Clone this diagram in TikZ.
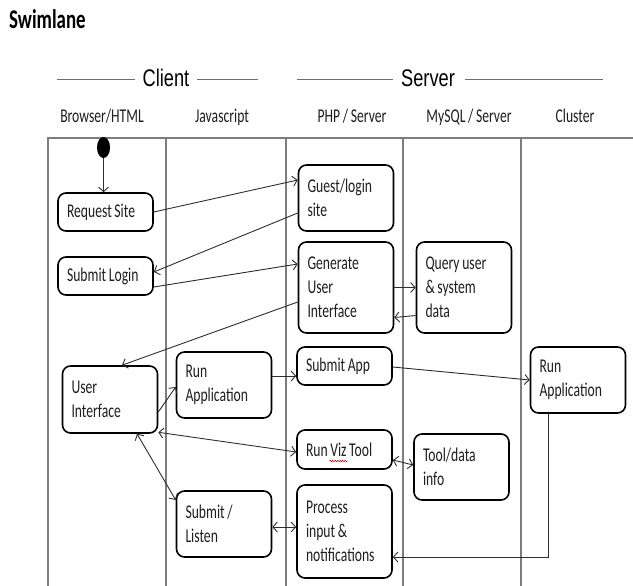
\documentclass[tikz,border=0pt]{standalone}
\usepackage{fontspec}
\usepackage{tikz}
\usetikzlibrary{arrows.meta, shapes.geometric, decorations.pathmorphing}
\newfontfamily\boxfont[FakeStretch=0.7, WordSpace=0.85]{Carlito}
\newfontfamily\headfont[FakeStretch=0.76]{Liberation Sans}
\definecolor{laneline}{RGB}{125,125,125}
\definecolor{headline}{RGB}{95,115,135}
\definecolor{flowgray}{RGB}{45,45,45}
\definecolor{textgray}{RGB}{30,30,30}

\begin{document}
\begin{tikzpicture}[x=1pt, y=-1pt,
    act/.style={draw=black, line width=1.6pt, rounded corners=8pt,
        minimum width=95pt, minimum height=#1, text width=77pt,
        inner xsep=9pt, inner ysep=0pt, align=flush left, text=textgray,
        font=\boxfont\fontsize{19.5}{24}\selectfont},
    lanelbl/.style={anchor=base, text=textgray,
        font=\boxfont\fontsize{19.5}{24}\selectfont},
    flow/.style={draw=flowgray, line width=0.9pt},
    >={Straight Barb[length=4.5pt,width=10pt]}]
    \useasboundingbox (0,0) rectangle (633,586);

    % Title
    \node[anchor=base west, inner sep=0pt,
        font=\boxfont\bfseries\fontsize{27}{30}\selectfont] (title) at (9,29) {Swimlane};

    % Client / Server headings
    \node[anchor=base, font=\headfont\fontsize{24}{28}\selectfont] (client) at (166,87) {Client};
    \node[anchor=base, font=\headfont\fontsize{24}{28}\selectfont] (server) at (428,87) {Server};
    \draw[headline, line width=0.9pt] (57,79) -- (135,79) (197,79) -- (258,79);
    \draw[headline, line width=0.9pt] (297,79) -- (393,79) (465,79) -- (603,79);

    % Lane titles
    \foreach \x/\lbl [count=\i] in {102/{Browser/HTML}, 222/Javascript,
            352/{PHP / Server}, 469/{MySQL / Server}, 575/Cluster}
        \node[lanelbl] (lane\i) at (\x,123) {\lbl};

    % Lanes
    \draw[laneline, line width=1.2pt] (48,586) |- (633,138);
    \foreach \x in {166, 286, 403, 521}
        \draw[laneline, line width=1.2pt] (\x,138) -- (\x,586);

    % Browser/HTML
    \node[ellipse, fill=black, minimum width=13pt, minimum height=21pt, inner sep=0pt] (start) at (103.5,147.5) {};
    \node[act=38pt] (req) at (105.5,212) {Request Site};
    \node[act=38pt] (login) at (105.5,276) {Submit Login};
    \node[act=67pt] (ui) at (110,399.5) {User\\Interface};

    % Javascript
    \node[act=66pt] (runjs) at (224,385) {Run\\Application};
    \node[act=66pt] (listen) at (224,524) {Submit /\\Listen};

    % PHP / Server
    \node[act=66pt] (guest) at (346,198) {Guest/login\\site};
    \node[act=91pt] (genui) at (346,287.5) {Generate\\User\\Interface};
    \node[act=38pt] (subapp) at (344.5,366) {Submit App};
    \node[act=39pt] (viz) at (344.5,449.5) {Run Viz Tool};
    \node[act=93pt] (process) at (344.5,531.5) {Process\\input \&\\notifications};

    % MySQL / Server
    \node[act=91pt] (query) at (464,287.5) {Query user\\\& system\\data};
    \node[act=66pt] (tooldata) at (461.5,467) {Tool/data\\info};

    % Cluster
    \node[act=66pt] (runcl) at (578,380) {Run\\Application};

    % spell-check squiggle under "Viz"
    \draw[red!80!black, line width=0.5pt, decorate,
        decoration={snake, amplitude=0.8pt, segment length=2.5pt}]
        ([shift={(-15,11.5)}]viz.center) -- ([shift={(3,11.5)}]viz.center);

    % Flow
    \draw[flow, ->] (start.south) -- (start.south |- req.north);
    \draw[flow, ->] (req.east) -- ([yshift=18pt]guest.west);
    \draw[flow, ->] ([yshift=-15pt]guest.west) -- ([yshift=4pt]login.east);
    \draw[flow, ->] ([yshift=-11pt]login.east) -- ([yshift=23.5pt]genui.west);
    \draw[flow, ->] ([yshift=-14.5pt]genui.west) -- ([xshift=12pt]ui.north);
    \draw[flow, ->] (genui.east) -- (query.west);
    \draw[flow, ->] ([yshift=-28pt]query.west) -- ([yshift=-30pt]genui.east);
    \draw[flow, ->] ([yshift=-12.5pt]ui.east) -- ([yshift=-2pt]runjs.west);
    \draw[flow, ->] ([yshift=9pt]runjs.east) -- ([yshift=-10pt]subapp.west);
    \draw[flow, ->] ([yshift=-1pt]subapp.east) -- (runcl.west);
    \draw[flow, <->] ([yshift=1.5pt]ui.south east) -- ([yshift=-2.5pt]viz.west);
    \draw[flow, <->] ([xshift=27pt]ui.south) -- ([yshift=24pt]listen.west);
    \draw[flow, <->] ([yshift=-10.5pt]viz.east) -- ([yshift=2pt]tooldata.west);
    \draw[flow, <->] ([yshift=-3pt]listen.east) -- ([yshift=4.5pt]process.west);
    \draw[flow, ->] ([xshift=-30pt]runcl.south) |- ([yshift=-25.5pt]process.east);
\end{tikzpicture}
\end{document}
